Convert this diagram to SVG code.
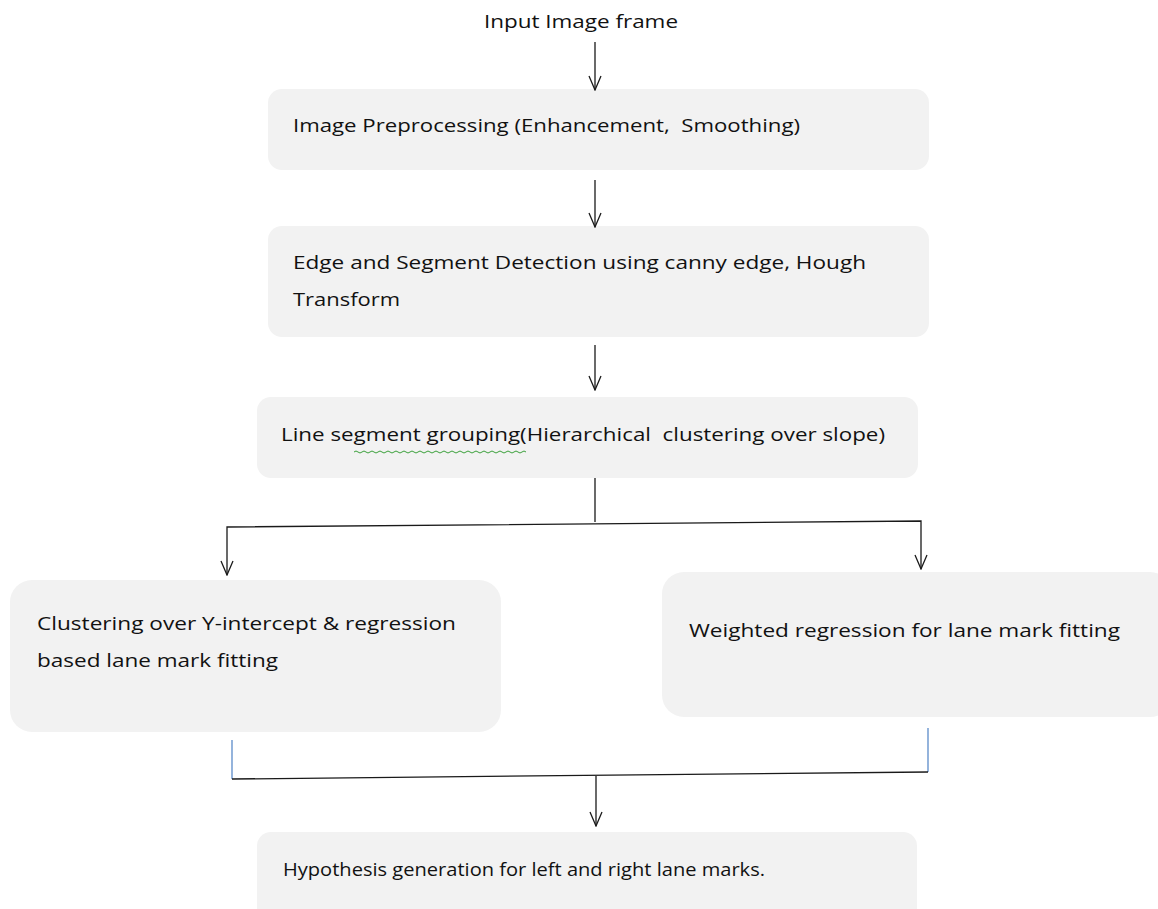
<svg xmlns="http://www.w3.org/2000/svg" width="1158" height="909" viewBox="0 0 1158 909">
<style>
.box{fill:#f2f2f2;stroke:none}
.t{font-family:"Open Sans","Liberation Sans",Arial,sans-serif;font-size:17.5px;fill:#111;white-space:pre}
.c{stroke:#1a1a1a;stroke-width:1.3;fill:none}
.b{stroke:#5b8bc9;stroke-width:1.3;fill:none}
</style>
<defs>
<marker id="v" viewBox="0 0 16 14" refX="15" refY="7" markerWidth="16" markerHeight="14" markerUnits="userSpaceOnUse" orient="auto-start-reverse">
<polyline points="1,1 15,7 1,13" fill="none" stroke="#1a1a1a" stroke-width="1.3"/>
</marker>
</defs>
<rect width="1158" height="909" fill="#ffffff"/>
<g id="input"><text class="t" x="484" y="28" textLength="194" lengthAdjust="spacingAndGlyphs">Input Image frame</text></g>
<g id="n1"><rect class="box" x="268" y="89" width="661" height="81" rx="14"/>
<text class="t" x="293" y="132" textLength="507" lengthAdjust="spacingAndGlyphs" xml:space="preserve">Image Preprocessing (Enhancement,  Smoothing)</text></g>
<g id="n2"><rect class="box" x="268" y="226" width="661" height="111" rx="14"/>
<text class="t" x="293" y="269" textLength="573" lengthAdjust="spacingAndGlyphs">Edge and Segment Detection using canny edge, Hough</text>
<text class="t" x="293" y="306" textLength="107" lengthAdjust="spacingAndGlyphs">Transform</text></g>
<g id="n3"><rect class="box" x="257" y="397" width="661" height="81" rx="14"/>
<text class="t" x="281" y="441" textLength="604" lengthAdjust="spacingAndGlyphs" xml:space="preserve">Line segment grouping(Hierarchical  clustering over slope)</text>
<path d="M354,452 q2,-2 4,0 t4,0 t4,0 t4,0 t4,0 t4,0 t4,0 t4,0 t4,0 t4,0 t4,0 t4,0 t4,0 t4,0 t4,0 t4,0 t4,0 t4,0 t4,0 t4,0 t4,0 t4,0 t4,0 t4,0 t4,0 t4,0 t4,0 t4,0 t4,0 t4,0 t4,0 t4,0 t4,0 t4,0 t4,0 t4,0 t4,0 t4,0 t4,0 t4,0 t4,0 t4,0 t4,0" fill="none" stroke="#3aa03a" stroke-width="1"/></g>
<g id="n4"><rect class="box" x="10" y="580" width="491" height="152" rx="22"/>
<text class="t" x="37" y="630" textLength="419" lengthAdjust="spacingAndGlyphs">Clustering over Y-intercept &amp; regression</text>
<text class="t" x="37" y="667" textLength="241" lengthAdjust="spacingAndGlyphs">based lane mark fitting</text></g>
<g id="n5"><rect class="box" x="662" y="572" width="510" height="145" rx="22"/>
<text class="t" x="689" y="637" textLength="431" lengthAdjust="spacingAndGlyphs">Weighted regression for lane mark fitting</text></g>
<g id="n6"><rect class="box" x="257" y="832" width="660" height="90" rx="14"/>
<text class="t" x="283" y="876" textLength="482" lengthAdjust="spacingAndGlyphs">Hypothesis generation for left and right lane marks.</text></g>
<g id="connectors">
<line class="c" x1="595" y1="42" x2="595" y2="90" marker-end="url(#v)"/>
<line class="c" x1="595" y1="180" x2="595" y2="227" marker-end="url(#v)"/>
<line class="c" x1="595" y1="345" x2="595" y2="390" marker-end="url(#v)"/>
<line class="c" x1="595" y1="478" x2="595" y2="522"/>
<polyline class="c" points="227,575 227,527 921,521 921,569" marker-start="url(#v)" marker-end="url(#v)"/>
<line class="b" x1="232" y1="740" x2="232" y2="779"/>
<line class="b" x1="928" y1="728" x2="928" y2="772"/>
<line class="c" x1="232" y1="779" x2="928" y2="772"/>
<line class="c" x1="596" y1="776" x2="596" y2="826" marker-end="url(#v)"/>
</g>
</svg>
